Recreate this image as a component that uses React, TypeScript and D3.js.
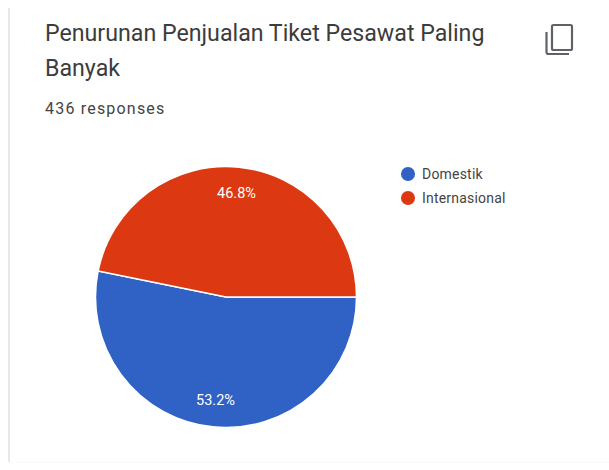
import React from "react";
import * as d3 from "d3";

const categories = ["Domestik", "Internasional"];
const shares = [53.2, 46.8];
const colors = ["#2f62c4", "#dc3912"];
const titleLines = ["Penurunan Penjualan Tiket Pesawat Paling", "Banyak"];
const responses = "436 responses";

const WIDTH = 609;
const HEIGHT = 470;
const CX = 226;
const CY = 297;
const R = 130.5;

export default function App() {
  const pie = d3
    .pie<number>()
    .sort(null)
    .startAngle(Math.PI / 2)
    .endAngle(Math.PI / 2 + 2 * Math.PI);
  const arcs = pie(shares);
  const arc = d3.arc<d3.PieArcDatum<number>>().innerRadius(0).outerRadius(R);
  const labelArc = d3
    .arc<d3.PieArcDatum<number>>()
    .innerRadius(R * 0.8)
    .outerRadius(R * 0.8);
  const font = "Roboto, sans-serif";

  return (
    <svg
      width={WIDTH}
      height={HEIGHT}
      style={{ position: "absolute", left: 0, top: 0, background: "#fff" }}
    >
      {/* card edge */}
      <rect x={8} y={8} width={2} height={454} fill="#e8e8e8" />
      <rect x={10} y={462} width={WIDTH - 10} height={1} fill="#fafafa" />

      {titleLines.map((line, i) => (
        <text
          key={line}
          x={45}
          y={41 + i * 34.5}
          fontFamily={font}
          fontSize={23.2}
          fill="#3c3c3c"
        >
          {line}
        </text>
      ))}
      <text
        x={45}
        y={114}
        fontFamily={font}
        fontSize={16}
        letterSpacing={1.2}
        fill="#444"
      >
        {responses}
      </text>

      {/* copy icon */}
      <g fill="none" stroke="#5f6368" strokeWidth={2.2}>
        <rect x={552} y={25} width={20} height={25} rx={1.5} />
        <path d="M546.5 32 V52 a2 2 0 0 0 2 2 H569" />
      </g>

      {arcs.map((d, i) => (
        <path
          key={categories[i]}
          d={arc(d) ?? ""}
          transform={`translate(${CX},${CY})`}
          fill={colors[i]}
          stroke="#fff"
          strokeWidth={1.5}
        />
      ))}
      {arcs.map((d, i) => {
        const [x, y] = labelArc.centroid(d);
        return (
          <text
            key={categories[i]}
            x={CX + x}
            y={CY + y + 4.5}
            textAnchor="middle"
            fontFamily={font}
            fontSize={14.5}
            fill="#fff"
          >
            {shares[i].toFixed(1)}%
          </text>
        );
      })}

      {categories.map((c, i) => (
        <g key={c}>
          <circle cx={408} cy={174 + i * 24} r={7} fill={colors[i]} />
          <text
            x={422}
            y={179 + i * 24}
            fontFamily={font}
            fontSize={14}
            letterSpacing={0.2}
            fill="#444"
          >
            {c}
          </text>
        </g>
      ))}
    </svg>
  );
}
